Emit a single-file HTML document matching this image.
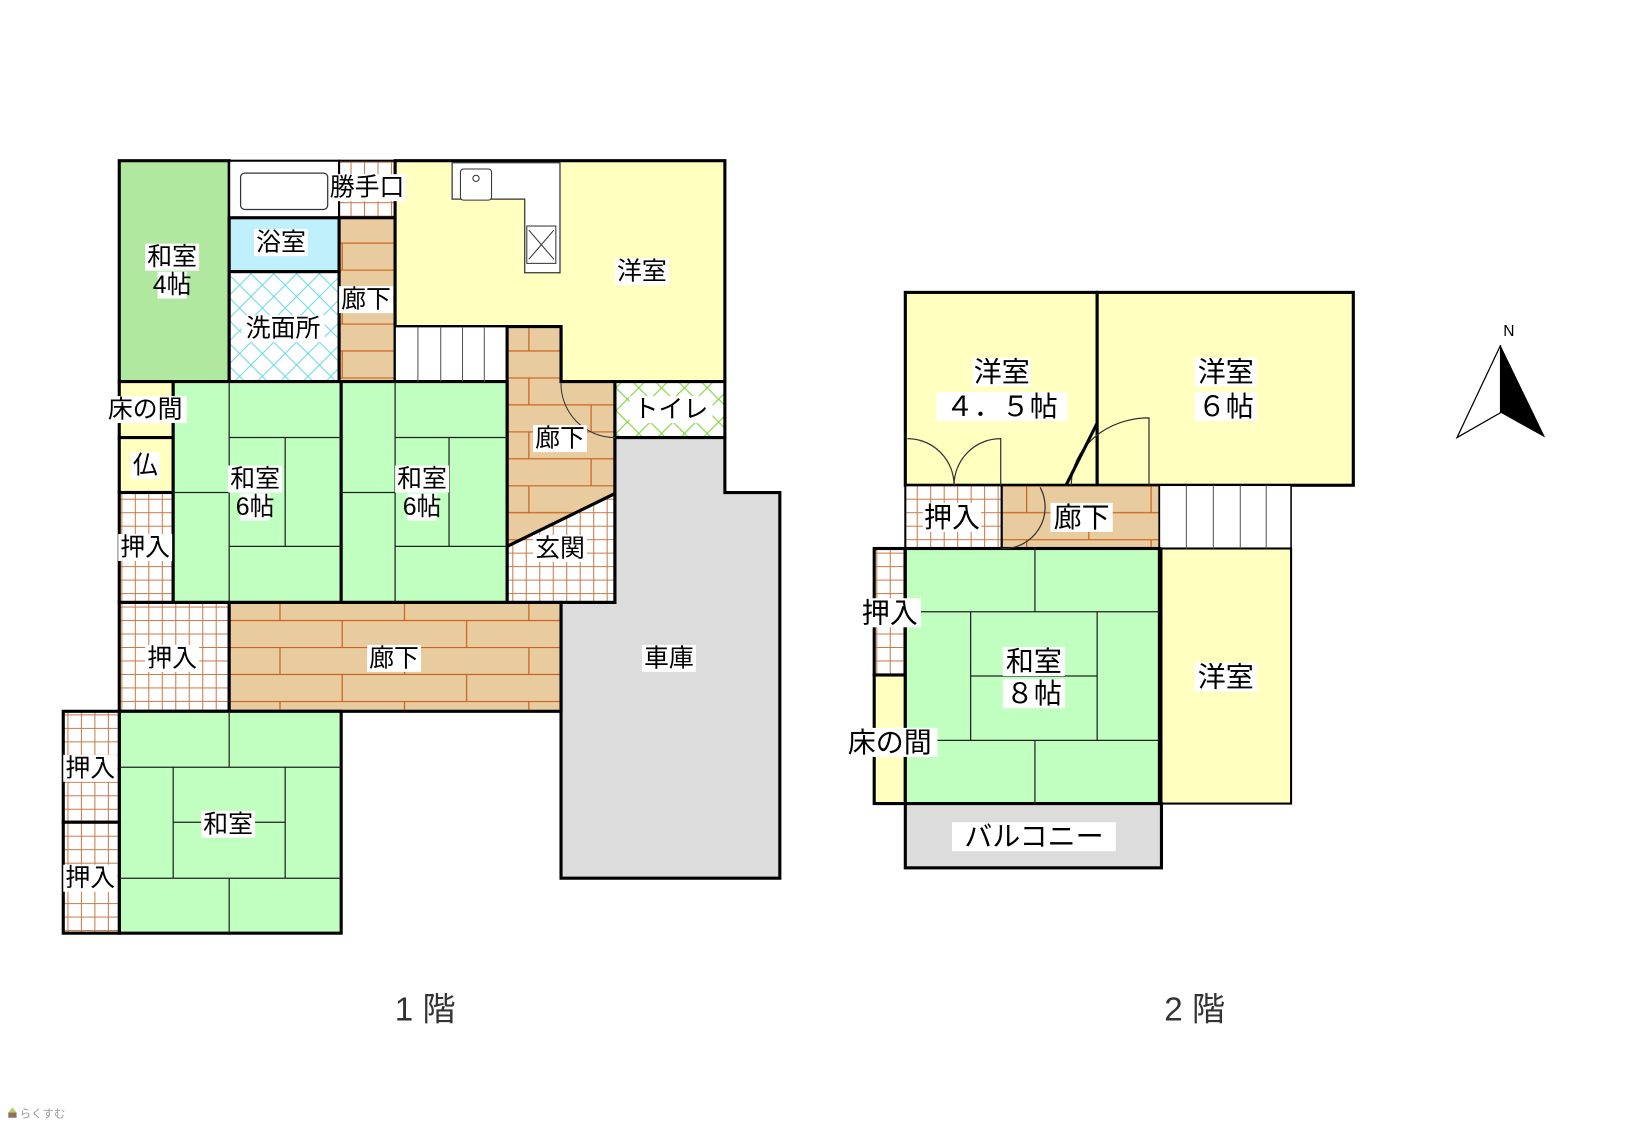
<!DOCTYPE html>
<html><head><meta charset="utf-8"><style>
html,body{margin:0;padding:0;background:#fff;}
svg{display:block;}
text{font-family:"Liberation Sans","Noto Sans CJK JP",sans-serif;}
</style></head><body>
<svg width="1625" height="1125" viewBox="0 0 1567 1085" preserveAspectRatio="none" xmlns="http://www.w3.org/2000/svg">
<defs>
<pattern id="tile" width="13" height="13" patternUnits="userSpaceOnUse">
<rect width="13" height="13" fill="#fff"/>
<path d="M0 0.5H13M0.5 0V13" stroke="#c87a4a" stroke-width="1"/>
</pattern>
<pattern id="wood" width="120" height="52" patternUnits="userSpaceOnUse">
<rect width="120" height="52" fill="#e8cca0"/>
<path d="M0 0.5H120M0 26.5H120M30 0V26M90 26V52" stroke="#c8641e" stroke-width="1.2"/>
</pattern>
<pattern id="cyan" width="22" height="22" patternUnits="userSpaceOnUse">
<rect width="22" height="22" fill="#fff"/>
<path d="M0 0L22 22M22 0L0 22" stroke="#6ad8e8" stroke-width="1"/>
</pattern>
<pattern id="greenx" width="22" height="22" patternUnits="userSpaceOnUse">
<rect width="22" height="22" fill="#fff"/>
<path d="M0 0L22 22M22 0L0 22" stroke="#8ad84a" stroke-width="1.2"/>
</pattern>
</defs>

<g stroke="#000" stroke-width="3">
<rect x="115" y="155" width="106" height="213" fill="#b0e8a0"/>
<rect x="221" y="155" width="106" height="55" fill="#fff" stroke-width="2"/>
<rect x="221" y="210" width="106" height="52" fill="#bff0fc"/>
<rect x="221" y="262" width="106" height="106" fill="url(#cyan)"/>
<rect x="327" y="155" width="54" height="55" fill="url(#tile)" stroke-width="2"/>
<rect x="327" y="210" width="54" height="158" fill="url(#wood)"/>
<polygon points="381,155 699,155 699,368 541,368 541,315 381,315" fill="#ffffc0"/>
<rect x="381" y="315" width="108" height="53" fill="#fff" stroke-width="1.5"/>
<polygon points="489,315 541,315 541,368 593,368 593,476 489,527" fill="url(#wood)"/>
<polygon points="489,527 593,476 593,581 489,581" fill="url(#tile)"/>
<rect x="593" y="368" width="106" height="54" fill="url(#greenx)"/>
<polygon points="593,422 699,422 699,475 752,475 752,847 541,847 541,581 593,581" fill="#dcdcdc"/>
<rect x="115" y="368" width="52" height="54" fill="#ffffc0"/>
<rect x="115" y="422" width="52" height="53" fill="#ffffc0"/>
<rect x="115" y="475" width="52" height="106" fill="url(#tile)"/>
<rect x="167" y="368" width="162" height="213" fill="#c0ffc0"/>
<rect x="329" y="368" width="160" height="213" fill="#c0ffc0"/>
<rect x="115" y="581" width="106" height="105" fill="url(#tile)"/>
<rect x="221" y="581" width="320" height="105" fill="url(#wood)"/>
<rect x="115" y="686" width="214" height="214" fill="#c0ffc0"/>
<rect x="61" y="686" width="54" height="107" fill="url(#tile)"/>
<rect x="61" y="793" width="54" height="107" fill="url(#tile)"/>
</g>
<g stroke="#555" stroke-width="1">
<path d="M403 315V368M425 315V368M446 315V368M467 315V368"/>
</g>
<g stroke="#222" stroke-width="1.2" fill="none">
<path d="M221 368V581M221 422H329M221 527H329M275 422V527M167 475H221"/>
<path d="M381 368V581M381 422H489M381 527H489M433 422V527M329 475H381"/>
<path d="M115 740H329M115 847H329M221 686V740M221 847V900M167 740V847M275 740V847M167 793H275"/>
</g>
<rect x="232" y="167" width="84" height="35" rx="4" fill="#fff" stroke="#333" stroke-width="1.2"/>
<path d="M436 157H540V263H506V192H436Z" fill="#fff" stroke="#333" stroke-width="1.2"/>
<rect x="444" y="163" width="30" height="30" rx="3" fill="#fff" stroke="#333"/>
<circle cx="459" cy="172" r="3" fill="none" stroke="#333"/>
<rect x="508" y="218" width="28" height="36" fill="#fff" stroke="#333"/>
<path d="M510 222L534 250M534 222L510 250" stroke="#333"/>
<path d="M541 368A52 52 0 0 0 593 422" fill="none" stroke="#333" stroke-width="1"/>

<g stroke="#000" stroke-width="3">
<rect x="873" y="282" width="185" height="186" fill="#ffffc0"/>
<rect x="1058" y="282" width="247" height="186" fill="#ffffc0"/>
<rect x="873" y="468" width="93" height="61" fill="url(#tile)" stroke-width="2"/>
<rect x="966" y="468" width="152" height="61" fill="url(#wood)" stroke-width="2"/>
<rect x="1118" y="468" width="127" height="61" fill="#fff" stroke-width="1.5"/>
<rect x="843" y="529" width="30" height="122" fill="url(#tile)"/>
<rect x="843" y="651" width="30" height="124" fill="#ffffc0"/>
<rect x="873" y="529" width="245" height="246" fill="#c0ffc0"/>
<rect x="1120" y="529" width="125" height="246" fill="#ffffc0" stroke-width="2"/>
<rect x="873" y="775" width="247" height="62" fill="#dcdcdc"/>
</g>
<g stroke="#555" stroke-width="1"><path d="M1144 468V529M1170 468V529M1196 468V529M1221 468V529"/></g>
<g stroke="#222" stroke-width="1.2" fill="none">
<path d="M873 590H1118M873 714H1118M998 529V590M998 714V775M936 590V714M1058 590V714M936 652H1058"/>
</g>
<g fill="none" stroke="#333" stroke-width="1.2">
<path d="M875 423A45 45 0 0 1 920 468"/>
<path d="M965 468V423A45 45 0 0 0 920 468"/>
<path d="M1108 468V403A75 65 0 0 0 1033 468"/>
<path d="M966 529A40 40 0 0 0 1003 470"/>
</g>
<path d="M1058 408L1028 468" stroke="#000" stroke-width="3"/>

<polygon points="1447,333 1405,422 1447,398" fill="#fff" stroke="#000" stroke-width="1.2"/>
<polygon points="1447,333 1490,422 1447,398" fill="#000"/>
<text x="1455" y="324" font-size="15" text-anchor="middle">N</text>

<g font-size="24" fill="#000">
<g fill="#fff">
<rect x="140" y="235" width="52" height="26"/><rect x="152" y="262" width="28" height="26"/>
<rect x="245" y="221" width="52" height="26"/><rect x="233" y="304" width="80" height="26"/>
<rect x="317" y="168" width="74" height="26"/><rect x="327" y="276" width="52" height="26"/>
<rect x="593" y="249" width="52" height="26"/><rect x="100" y="382" width="80" height="26"/>
<rect x="126" y="436" width="28" height="26"/><rect x="114" y="515" width="52" height="26"/>
<rect x="220" y="449" width="52" height="26"/><rect x="232" y="476" width="28" height="26"/>
<rect x="381" y="449" width="52" height="26"/><rect x="393" y="476" width="28" height="26"/>
<rect x="514" y="410" width="52" height="26"/><rect x="514" y="516" width="52" height="26"/>
<rect x="607" y="382" width="80" height="26"/><rect x="140" y="622" width="52" height="26"/>
<rect x="354" y="622" width="52" height="26"/><rect x="619" y="622" width="52" height="26"/>
<rect x="61" y="728" width="52" height="26"/><rect x="194" y="782" width="52" height="26"/>
<rect x="61" y="834" width="52" height="26"/>
<rect x="938" y="345" width="56" height="28"/><rect x="903" y="378" width="126" height="28"/>
<rect x="1152" y="345" width="60" height="28"/><rect x="1152" y="378" width="60" height="28"/>
<rect x="890" y="485" width="56" height="28"/><rect x="1013" y="485" width="60" height="28"/>
<rect x="828" y="577" width="60" height="28"/><rect x="967" y="624" width="60" height="28"/>
<rect x="967" y="655" width="60" height="28"/><rect x="812" y="702" width="92" height="28"/>
<rect x="1152" y="639" width="60" height="28"/><rect x="918" y="793" width="158" height="28"/>
</g>
<g text-anchor="middle" dominant-baseline="central">
<text x="166" y="248">和室</text><text x="166" y="275">4帖</text>
<text x="271" y="234">浴室</text><text x="273" y="317">洗面所</text>
<text x="354" y="181">勝手口</text><text x="353" y="289">廊下</text>
<text x="619" y="262">洋室</text><text x="140" y="395">床の間</text>
<text x="140" y="449">仏</text><text x="140" y="528">押入</text>
<text x="246" y="462">和室</text><text x="246" y="489">6帖</text>
<text x="407" y="462">和室</text><text x="407" y="489">6帖</text>
<text x="540" y="423">廊下</text><text x="540" y="529">玄関</text>
<text x="647" y="395">トイレ</text><text x="166" y="635">押入</text>
<text x="380" y="635">廊下</text><text x="645" y="635">車庫</text>
<text x="87" y="741">押入</text><text x="220" y="795">和室</text>
<text x="87" y="847">押入</text>
</g>
<g text-anchor="middle" dominant-baseline="central" font-size="27">
<text x="966" y="359">洋室</text><text x="966" y="392">４．５帖</text>
<text x="1182" y="359">洋室</text><text x="1182" y="392">６帖</text>
<text x="918" y="499">押入</text><text x="1043" y="499">廊下</text>
<text x="858" y="591">押入</text>
<text x="997" y="638">和室</text><text x="997" y="669">８帖</text>
<text x="858" y="716">床の間</text>
<text x="1182" y="653">洋室</text><text x="997" y="807">バルコニー</text>
</g>
</g>
<text x="410" y="984" font-size="32" fill="#333" text-anchor="middle">1 階</text>
<text x="1152" y="984" font-size="32" fill="#333" text-anchor="middle">2 階</text>
<polygon points="8,1073 12,1068 16,1073" fill="#b8d060"/>
<rect x="8" y="1073" width="8" height="5" fill="#8a7060"/>
<text x="19" y="1078" font-size="11" fill="#999">らくすむ</text>
</svg>
</body></html>
